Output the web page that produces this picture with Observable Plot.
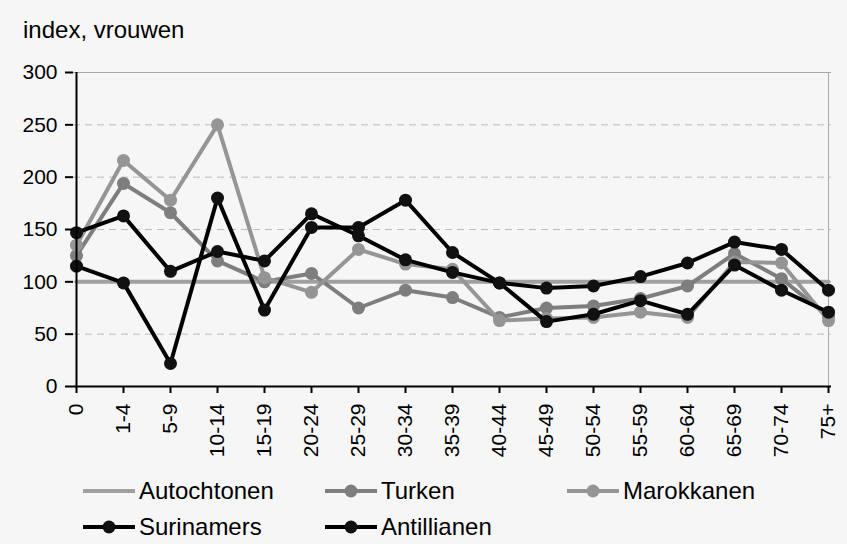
<!DOCTYPE html>
<html>
<head>
<meta charset="utf-8">
<script src="https://cdn.jsdelivr.net/npm/d3@7"></script>
<script src="https://cdn.jsdelivr.net/npm/@observablehq/plot@0.6"></script>
<style>
  html, body { margin: 0; padding: 0; background: #f6f6f6; }
  body { width: 847px; height: 544px; position: relative; overflow: hidden;
         font-family: "Liberation Sans", Arial, sans-serif; color: #000; }
  #title { position: absolute; left: 23px; top: 18px; font-size: 24px; line-height: 1; }
  #chart { position: absolute; left: 0; top: 50px; }
  .leg { position: absolute; height: 24px; display: flex; align-items: center; font-size: 24px; line-height: 1; }
  .leg svg { margin-right: 4px; }
</style>
</head>
<body>
<div id="title">index, vrouwen</div>
<div id="chart"></div>
<div id="legend"></div>
<script>
const categories = ["0","1-4","5-9","10-14","15-19","20-24","25-29","30-34","35-39","40-44","45-49","50-54","55-59","60-64","65-69","70-74","75+"];
const yTicks = [0, 50, 100, 150, 200, 250, 300];
const gridTicks = [50, 100, 150, 200, 250];
const seriesNames = ["Autochtonen", "Turken", "Marokkanen", "Surinamers", "Antillianen"];
const autochtonen = [100,100,100,100,100,100,100,100,100,100,100,100,100,100,100,100,100];
const turken      = [125,194,166,120,100,108,75,92,85,66,75,77,84,96,127,103,67];
const marokkanen  = [135,216,178,250,104,90,131,117,112,63,65,66,71,66,119,118,63];
const surinamers  = [147,163,110,129,120,165,144,121,109,99,94,96,105,118,138,131,92];
const antillianen = [115,99,22,180,73,152,152,178,128,99,62,69,82,69,116,92,71];
const seriesColors = ["#a0a0a0", "#7e7e7e", "#959595", "#000000", "#000000"];
const seriesMarkers = [false, true, true, true, true];

const values = [autochtonen, turken, marokkanen, surinamers, antillianen];
const series = seriesNames.map((name, i) => ({
  name, color: seriesColors[i], marker: seriesMarkers[i],
  data: categories.map((c, j) => ({cat: c, value: values[i][j]}))
}));

const marks = [
  Plot.ruleY(gridTicks, {stroke: "#bdbdbd", strokeDasharray: "7,5", strokeWidth: 1}),
  Plot.ruleY([yTicks[yTicks.length - 1]], {stroke: "#a8a8a8", strokeWidth: 1}),
  Plot.ruleX([categories[categories.length - 1]], {stroke: "#a8a8a8", strokeWidth: 1}),
];
for (const s of series) {
  marks.push(Plot.line(s.data, {x: "cat", y: "value", stroke: s.color, strokeWidth: 4, strokeLinejoin: "round"}));
  if (s.marker) marks.push(Plot.dot(s.data, {x: "cat", y: "value", r: 6.5, fill: s.color === "#000000" ? "#111" : s.color, stroke: "none"}));
}
marks.push(
  Plot.ruleX([categories[0]], {stroke: "#000", strokeWidth: 2}),
  Plot.ruleY([0], {stroke: "#000", strokeWidth: 2}),
  Plot.axisY({ticks: yTicks, tickSize: 8, tickPadding: 8, fontSize: 21, label: null, color: "#000", strokeWidth: 2}),
  Plot.axisX({tickSize: 7, tickPadding: 10, tickRotate: -90, fontSize: 21, label: null, color: "#000", strokeWidth: 2})
);

const chart = Plot.plot({
  width: 847, height: 420,
  marginTop: 22, marginBottom: 84, marginLeft: 73, marginRight: 16,
  style: {background: "transparent", fontFamily: "'Liberation Sans', Arial, sans-serif", color: "#000", overflow: "visible"},
  x: {type: "point", domain: categories, padding: 0},
  y: {domain: [0, 300]},
  marks
});
document.getElementById("chart").appendChild(chart);

// legend
const legendPos = [[83, 479], [325, 479], [567, 479], [83, 515], [325, 515]];
const legend = document.getElementById("legend");
series.forEach((s, i) => {
  const div = document.createElement("div");
  div.className = "leg";
  div.style.left = legendPos[i][0] + "px";
  div.style.top = legendPos[i][1] + "px";
  const fill = s.color === "#000000" ? "#111" : s.color;
  div.innerHTML = `<svg width="52" height="24"><line x1="0" x2="52" y1="12" y2="12" stroke="${s.color}" stroke-width="4"/>` +
    (s.marker ? `<circle cx="26" cy="12" r="6.5" fill="${fill}"/>` : "") + `</svg><span>${s.name}</span>`;
  legend.appendChild(div);
});
</script>
</body>
</html>
